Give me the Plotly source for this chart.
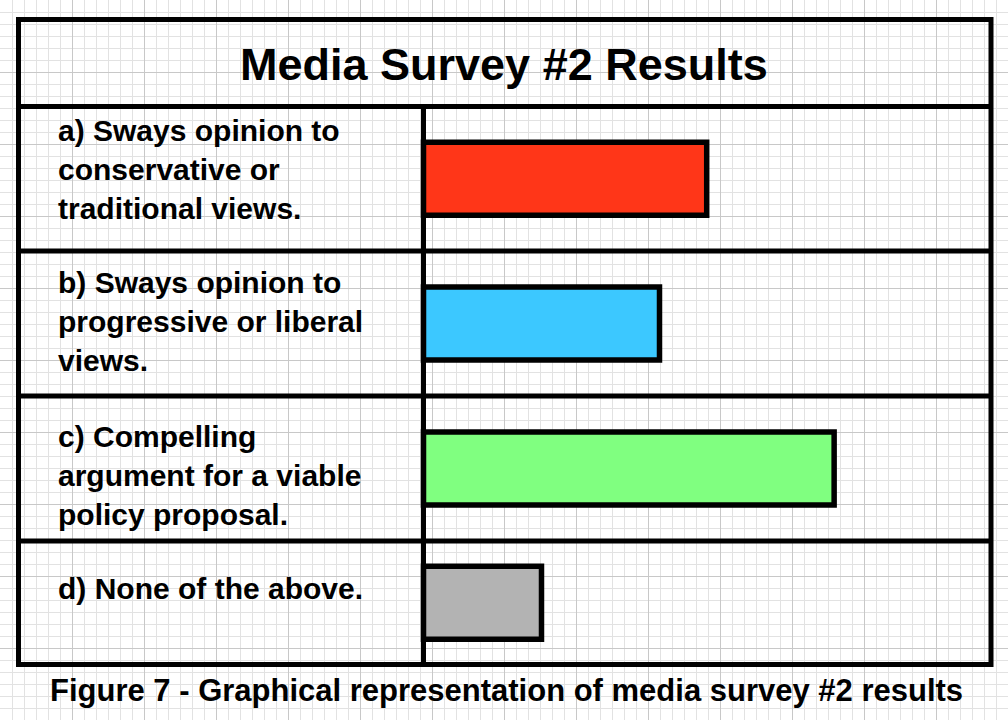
import plotly.graph_objects as go

# ---- data ----
categories = ["a", "b", "c", "d"]
labels = [
    "a) Sways opinion to<br>conservative or<br>traditional views.",
    "b) Sways opinion to<br>progressive or liberal<br>views.",
    "c) Compelling<br>argument for a viable<br>policy proposal.",
    "d) None of the above.",
]
values = [12.0, 10.0, 17.4, 5.0]
colors = ["#FF3618", "#3CC8FF", "#80FF80", "#B3B3B3"]
title_text = "Media Survey #2 Results"
caption_text = "Figure 7 - Graphical representation of media survey #2 results"

W, H = 1008, 720
FONT = "Liberation Sans, Arial, Helvetica, sans-serif"

# layout geometry (pixels)
frame_l, frame_r, frame_t, frame_b = 18.5, 991, 19.5, 664.5
title_sep = 106.5
row_seps = [251, 396, 541]
divider_x = 423.5
px_per_unit = 23.6
bar_px = 73  # bar thickness in pixels

bounds = [title_sep] + row_seps + [frame_b]

fig = go.Figure()

# pixel-coordinate base axes (grid paper)
grid_axis = dict(
    showgrid=True, gridcolor="#c8c8c8", gridwidth=1, dtick=72, tick0=0,
    minor=dict(showgrid=True, gridcolor="#e2e2e2", gridwidth=1, dtick=12, tick0=0),
    showticklabels=False, ticks="", zeroline=False, showline=False, fixedrange=True,
)
layout_axes = dict(
    xaxis=dict(range=[0, W], domain=[0, 1], **grid_axis),
    yaxis=dict(range=[H, 0], domain=[0, 1], **grid_axis),
)
hidden = dict(showgrid=False, showticklabels=False, zeroline=False, showline=False,
              ticks="", fixedrange=True)

# one row-subplot per category, each bar through its own axes
for i, (cat, val, col) in enumerate(zip(categories, values, colors)):
    n = i + 2
    top, bot = bounds[i], bounds[i + 1]
    fig.add_trace(go.Bar(
        x=[val], y=[cat], orientation="h",
        marker=dict(color=col, line=dict(color="black", width=5.5)),
        width=bar_px / (bot - top), xaxis=f"x{n}", yaxis=f"y{n}", hoverinfo="skip",
    ))
    layout_axes[f"xaxis{n}"] = dict(
        domain=[0, 1], anchor=f"y{n}",
        range=[-divider_x / px_per_unit, (W - divider_x) / px_per_unit], **hidden)
    layout_axes[f"yaxis{n}"] = dict(
        domain=[1 - bot / H, 1 - top / H], anchor=f"x{n}", type="category",
        range=[-0.5, 0.5], **hidden)

fig.update_layout(
    width=W, height=H, autosize=False,
    margin=dict(l=0, r=0, t=0, b=0, pad=0),
    paper_bgcolor="white", plot_bgcolor="rgba(0,0,0,0)",
    showlegend=False, bargap=0,
    **layout_axes,
)

line = dict(color="black", width=5)
shapes = [
    dict(type="rect", xref="x", yref="y", x0=frame_l, x1=frame_r, y0=frame_t, y1=frame_b, line=line),
    dict(type="line", xref="x", yref="y", x0=frame_l, x1=frame_r, y0=title_sep, y1=title_sep, line=line),
    dict(type="line", xref="x", yref="y", x0=divider_x, x1=divider_x, y0=title_sep, y1=frame_b, line=line),
]
for ys in row_seps:
    shapes.append(dict(type="line", xref="x", yref="y", x0=frame_l, x1=frame_r, y0=ys, y1=ys, line=line))
fig.update_layout(shapes=shapes)

annotations = [
    dict(text=title_text, xref="x", yref="y", x=504, y=64, xanchor="center", yanchor="middle",
         showarrow=False, font=dict(family=FONT, size=45, color="black", weight="bold")),
    dict(text=caption_text, xref="x", yref="y", x=506, y=690, xanchor="center", yanchor="middle",
         showarrow=False, font=dict(family=FONT, size=31, color="black", weight="bold")),
]
label_centers = [169.5, 321.5, 475, 588]
for lab, yc in zip(labels, label_centers):
    annotations.append(dict(text=lab, xref="x", yref="y", x=55.5, y=yc, xanchor="left",
                            yanchor="middle", align="left", showarrow=False,
                            font=dict(family=FONT, size=30, color="black", weight="bold")))
fig.update_layout(annotations=annotations)

fig.write_html("out.html", config={"displayModeBar": False, "staticPlot": True})

# remove default page margin so the figure sits at the window origin
with open("out.html", "r", encoding="utf-8") as f:
    html = f.read()
html = html.replace("<body>", '<body style="margin:0;padding:0;overflow:hidden">', 1)
with open("out.html", "w", encoding="utf-8") as f:
    f.write(html)
